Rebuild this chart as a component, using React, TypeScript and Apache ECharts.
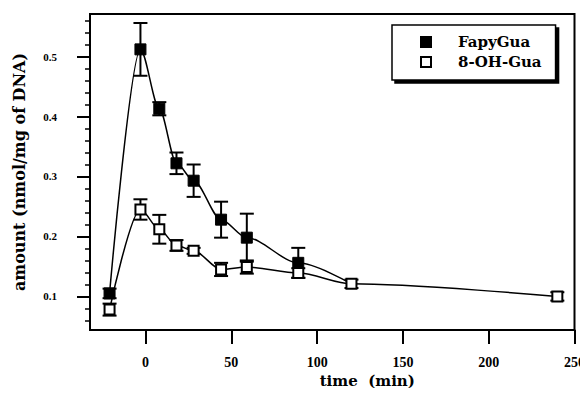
import React, { useEffect, useRef } from "react";
import * as echarts from "echarts";

const times = [-21, -3, 8, 18, 28, 44, 59, 89, 120, 240];
const fapyMean = [0.105, 0.512, 0.413, 0.322, 0.293, 0.228, 0.198, 0.156, 0.121, null];
const fapyErr = [0.008, 0.044, 0.011, 0.018, 0.027, 0.03, 0.04, 0.025, null, null];
const ohMean = [0.078, 0.245, 0.212, 0.185, 0.176, 0.145, 0.149, 0.139, 0.121, 0.1];
const ohErr = [0.01, 0.017, 0.024, 0.009, 0.005, 0.011, 0.011, 0.008, 0.007, 0.007];

const xTickLabels = [0, 50, 100, 150, 200, 250];
const yTickLabels = [0.1, 0.2, 0.3, 0.4, 0.5];
const yMinorTicks = [0.06, 0.08, 0.12, 0.14, 0.16, 0.18, 0.22, 0.24, 0.26, 0.28, 0.32, 0.34, 0.36, 0.38, 0.42, 0.44, 0.46, 0.48, 0.52, 0.54, 0.56];

const FONT = "'Liberation Serif', 'Times New Roman', serif";
const WIDE = "'DejaVu Serif', serif";

function lineData(means: (number | null)[], errs: (number | null)[]) {
  const out: any[] = [];
  times.forEach((t, i) => {
    const m = means[i];
    if (m === null) return;
    if (errs[i] === null) out.push({ value: [t, m], symbol: "none" });
    else out.push({ value: [t, m] });
  });
  return out;
}

function errData(means: (number | null)[], errs: (number | null)[]) {
  const out: number[][] = [];
  times.forEach((t, i) => {
    const m = means[i];
    const e = errs[i];
    if (m === null || e === null) return;
    out.push([t, m - e, m + e]);
  });
  return out;
}

function renderErr(params: any, api: any) {
  const x = api.value(0);
  const lo = api.value(1);
  const hi = api.value(2);
  const p1 = api.coord([x, hi]);
  const p2 = api.coord([x, lo]);
  const w = 7;
  const style = { stroke: "#000", lineWidth: 2 };
  return {
    type: "group",
    children: [
      { type: "line", shape: { x1: p1[0], y1: p1[1], x2: p2[0], y2: p2[1] }, style },
      { type: "line", shape: { x1: p1[0] - w, y1: p1[1], x2: p1[0] + w, y2: p1[1] }, style },
      { type: "line", shape: { x1: p2[0] - w, y1: p2[1], x2: p2[0] + w, y2: p2[1] }, style },
    ],
  };
}

export default function App() {
  const ref = useRef<HTMLDivElement>(null);
  useEffect(() => {
    if (!ref.current) return;
    const chart = echarts.init(ref.current, undefined, { renderer: "svg" });
    const yMin = 0.044;
    const yMax = 0.571;
    chart.setOption({
      animation: false,
      backgroundColor: "#fff",
      grid: {
        left: 90,
        right: 13,
        top: 14,
        bottom: 66,
        show: true,
        borderColor: "#000",
        borderWidth: 2,
        backgroundColor: "transparent",
      },
      legend: {
        data: ["FapyGua", "8-OH-Gua"],
        orient: "vertical",
        left: 392,
        top: 25,
        padding: [8, 14, 9, 28],
        itemWidth: 10,
        itemHeight: 10,
        itemGap: 2,
        icon: "rect",
        backgroundColor: "#fff",
        borderColor: "#000",
        borderWidth: 1.5,
        borderRadius: 0,
        shadowColor: "#000",
        shadowBlur: 0,
        shadowOffsetX: 3,
        shadowOffsetY: 3,
        textStyle: {
          fontFamily: WIDE,
          fontWeight: "bold",
          fontSize: 15,
          lineHeight: 18,
          color: "#000",
          padding: [0, 0, 0, 22],
        },
      },
      xAxis: {
        type: "value",
        min: -32.4,
        max: 250,
        name: "time  (min)",
        nameLocation: "middle",
        nameGap: 40,
        nameTextStyle: {
          fontFamily: WIDE,
          fontWeight: "bold",
          fontSize: 15,
          color: "#000",
          padding: [0, 0, 0, 70],
        },
        axisLine: { show: true, onZero: false, lineStyle: { color: "#000", width: 2 } },
        axisTick: {
          show: true,
          inside: false,
          length: 14,
          customValues: xTickLabels,
          lineStyle: { color: "#000", width: 2 },
        },
        axisLabel: {
          customValues: xTickLabels,
          margin: 25,
          fontFamily: FONT,
          fontWeight: "bold",
          fontSize: 14,
          color: "#000",
        },
        splitLine: { show: false },
      },
      yAxis: [
        {
          type: "value",
          min: yMin,
          max: yMax,
          name: "amount (nmol/mg of DNA)",
          nameLocation: "middle",
          nameGap: 63,
          nameTextStyle: {
            fontFamily: WIDE,
            fontWeight: "bold",
            fontSize: 16,
            color: "#000",
          },
          axisLine: { show: true, onZero: false, lineStyle: { color: "#000", width: 2 } },
          axisTick: {
            show: true,
            length: 13,
            customValues: yTickLabels,
            lineStyle: { color: "#000", width: 2 },
          },
          axisLabel: {
            customValues: yTickLabels,
            margin: 33,
            fontFamily: FONT,
            fontWeight: "bold",
            fontSize: 11,
            color: "#000",
            formatter: (v: number) => v.toFixed(1),
          },
          splitLine: { show: false },
        },
        {
          type: "value",
          min: yMin,
          max: yMax,
          position: "left",
          axisLine: { show: false, onZero: false },
          axisTick: {
            show: true,
            length: 5,
            customValues: yMinorTicks,
            lineStyle: { color: "#000", width: 1.5 },
          },
          axisLabel: { show: false },
          splitLine: { show: false },
        },
      ],
      series: [
        {
          name: "FapyGua err",
          type: "custom",
          renderItem: renderErr,
          encode: { x: 0, y: [1, 2] },
          data: errData(fapyMean, fapyErr),
          z: 2,
        },
        {
          name: "8-OH-Gua err",
          type: "custom",
          renderItem: renderErr,
          encode: { x: 0, y: [1, 2] },
          data: errData(ohMean, ohErr),
          z: 2,
        },
        {
          name: "FapyGua",
          type: "line",
          data: lineData(fapyMean, fapyErr),
          smooth: 0.3,
          smoothMonotone: "x",
          symbol: "rect",
          symbolSize: 11,
          lineStyle: { color: "#000", width: 1.5 },
          itemStyle: { color: "#000", borderColor: "#000", borderWidth: 1 },
          z: 3,
        },
        {
          name: "8-OH-Gua",
          type: "line",
          data: lineData(ohMean, ohErr),
          smooth: 0.3,
          smoothMonotone: "x",
          symbol: "rect",
          symbolSize: 10,
          lineStyle: { color: "#000", width: 1.5 },
          itemStyle: { color: "#fff", borderColor: "#000", borderWidth: 2 },
          z: 4,
        },
      ],
    });
    return () => chart.dispose();
  }, []);
  return <div ref={ref} style={{ width: 588, height: 396, margin: -8 }} />;
}
